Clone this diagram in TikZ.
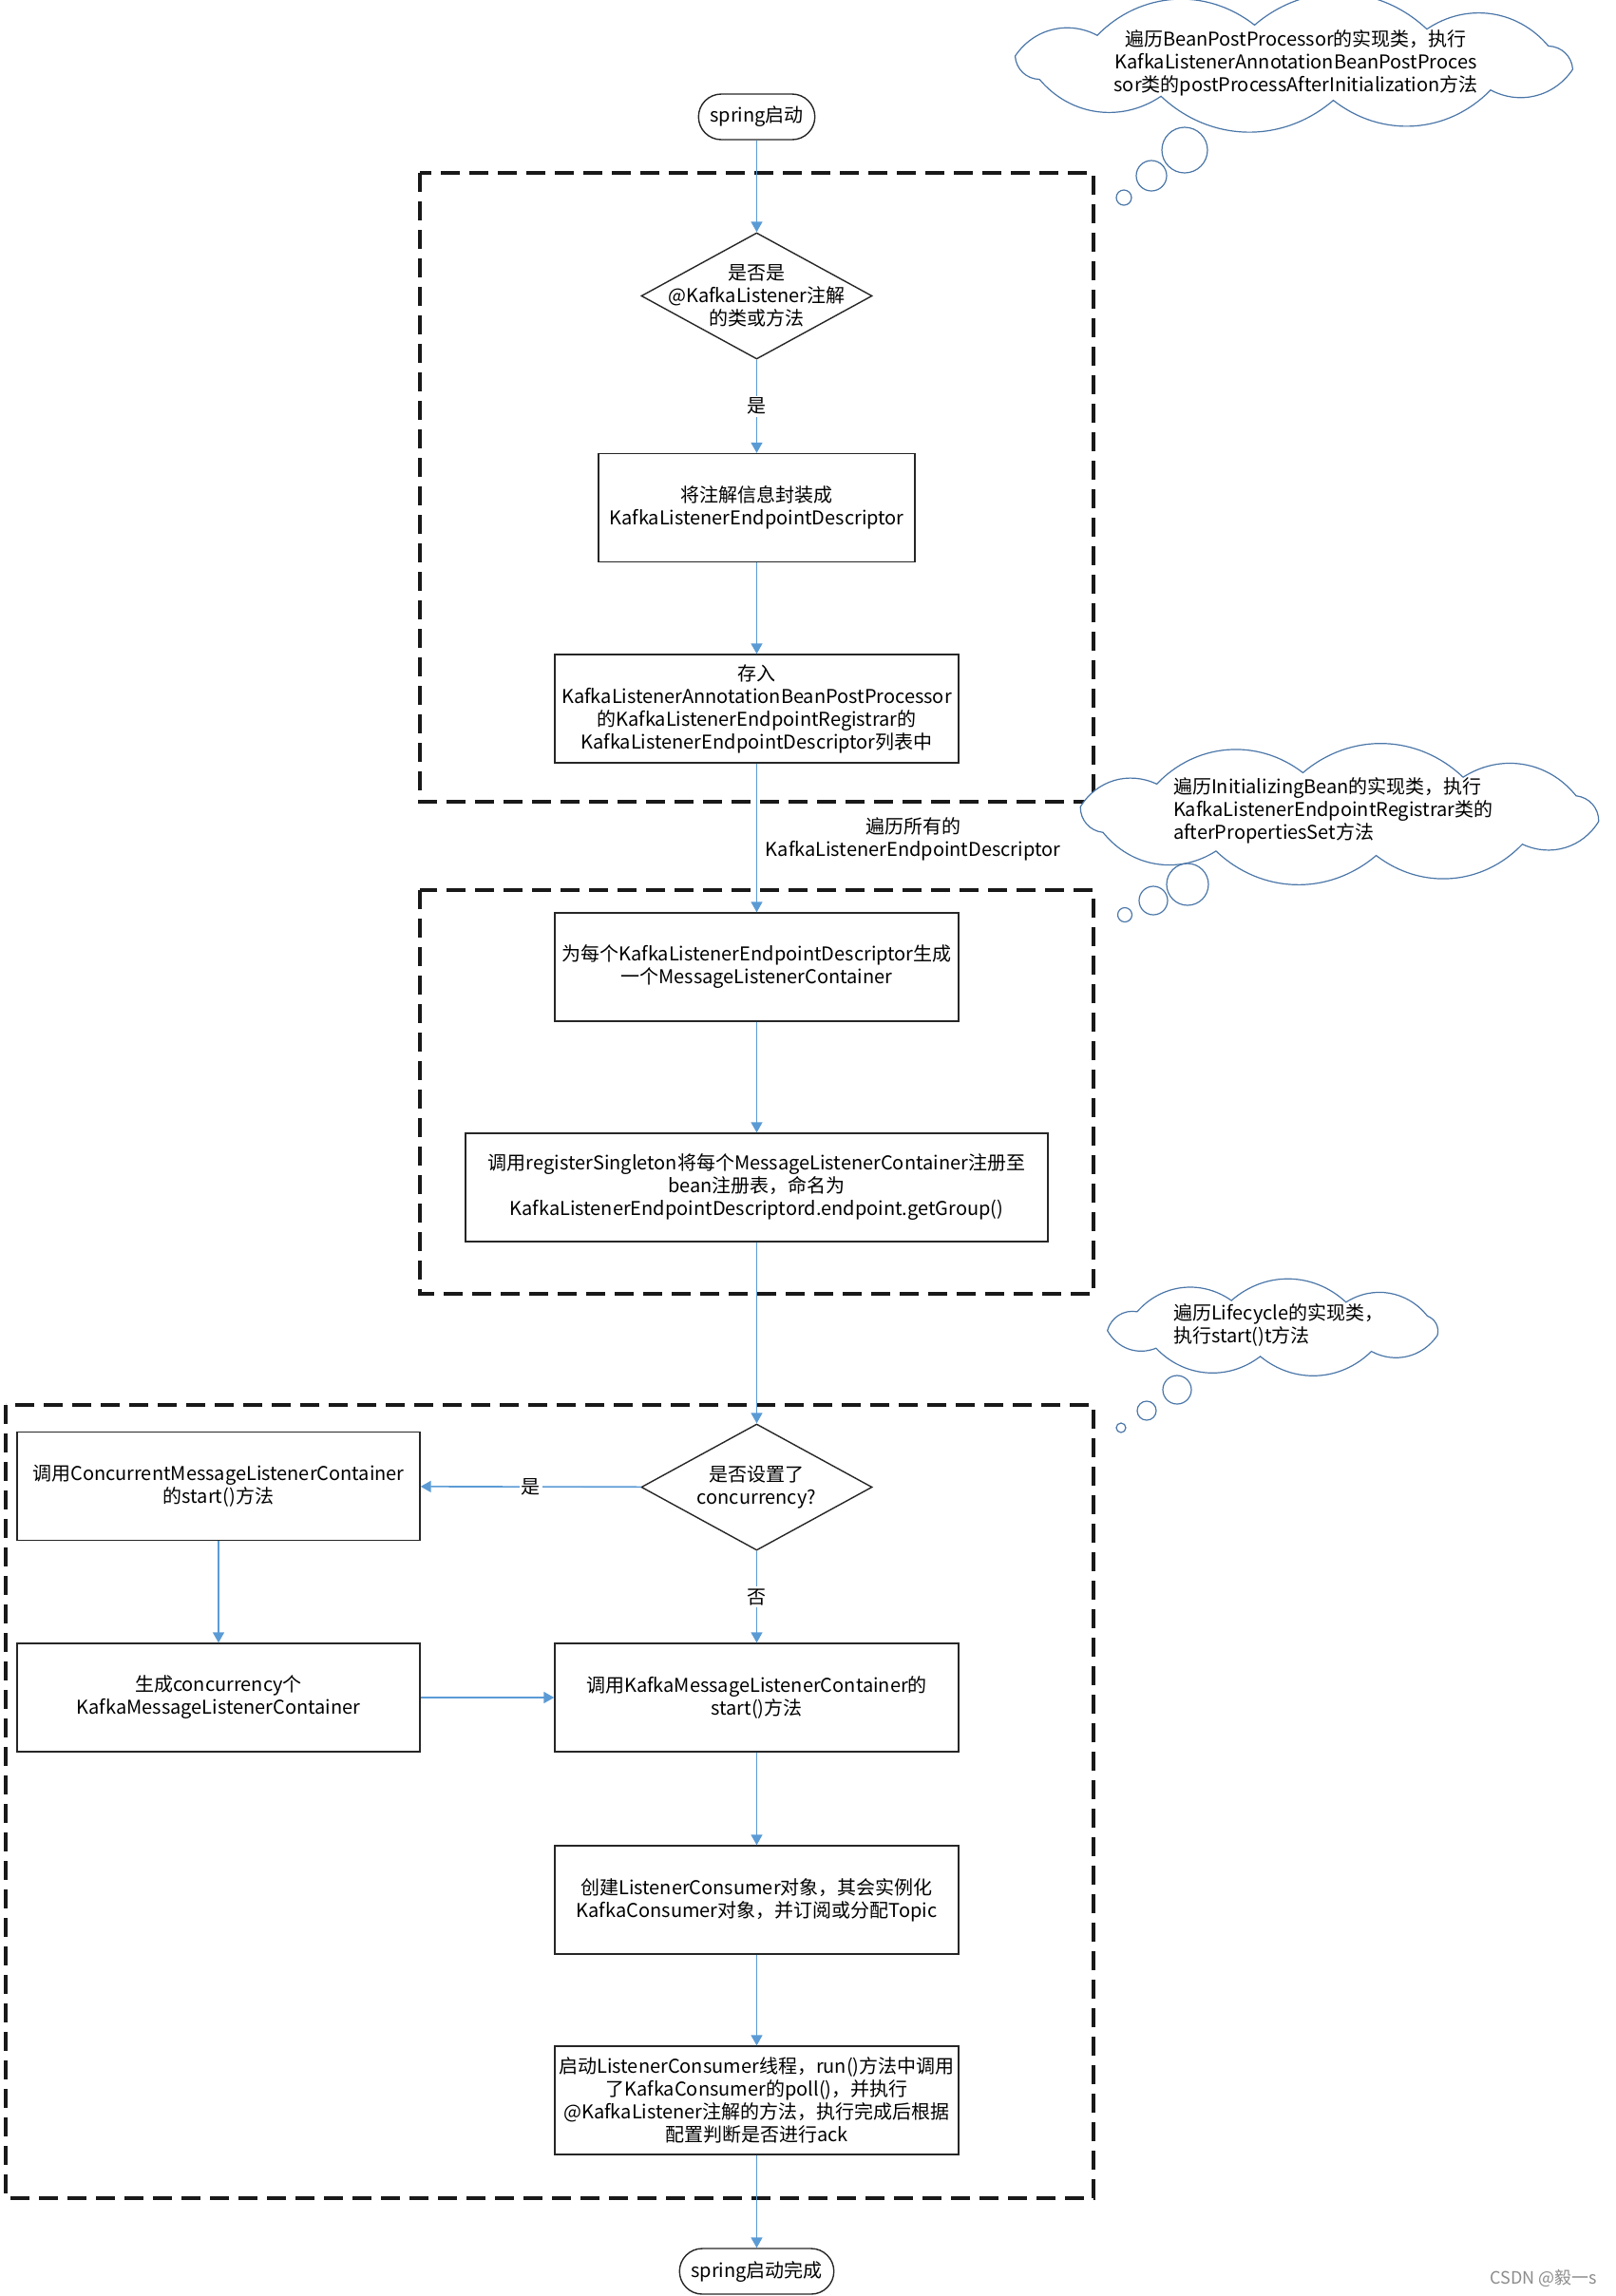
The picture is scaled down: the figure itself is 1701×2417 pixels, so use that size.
\documentclass[tikz,border=0pt]{standalone}
\usepackage{fontspec}
\setmainfont{Noto Sans CJK SC}
\usetikzlibrary{shapes.geometric,arrows.meta,calc}
\definecolor{flowblue}{RGB}{91,155,213}
\definecolor{cloudblue}{RGB}{74,118,168}

\begin{document}
\begin{tikzpicture}[x=0.5pt, y=-0.5pt,
  every node/.style={font=\fontsize{10pt}{12pt}\selectfont},
  proc/.style={draw=black!85, line width=0.7pt, rectangle, minimum height=57pt, align=center, inner sep=0pt},
  term/.style={draw=black!85, line width=0.7pt, rectangle, rounded corners=12pt, minimum height=24pt, inner xsep=6pt},
  decide/.style={draw=black!85, line width=0.7pt, diamond, minimum width=121.5pt, minimum height=66.5pt, inner sep=0pt},
  flow/.style={draw=flowblue, line width=0.8pt, -{Triangle[length=5.5pt,width=6pt]}},
  group/.style={draw=black!90, line width=1.6pt, dash pattern=on 10pt off 5pt},
  cloudline/.style={draw=cloudblue, fill=white, line width=0.6pt},
  bubble/.style={circle, draw=cloudblue, line width=0.6pt, inner sep=0pt},
  yesno/.style={fill=white, inner sep=1pt}]
\useasboundingbox (0,0) rectangle (1701,2417);

% dashed groups
\draw[group] (442,182) rectangle (1151,844);
\draw[group] (442,937) rectangle (1151,1362);
\draw[group] (6,1479) rectangle (1151,2314);

% flow nodes
\node[term] (start) at (796.5,123) {spring启动};
\node[decide] (d1) at (796.5,311.5) {};
\node[align=center] (d1t) at (d1) {是否是\\@KafkaListener注解\\的类或方法};
\node[proc, minimum width=166.5pt] (wrap) at (796.5,534.5) {将注解信息封装成\\KafkaListenerEndpointDescriptor};
\node[proc, minimum width=212.5pt] (store) at (796.5,746) {存入\\KafkaListenerAnnotationBeanPostProcessor\\的KafkaListenerEndpointRegistrar的\\KafkaListenerEndpointDescriptor列表中};
\node[align=center] (each) at (961,883) {遍历所有的\\KafkaListenerEndpointDescriptor};
\node[proc, minimum width=212.5pt] (gen) at (796.5,1018) {为每个KafkaListenerEndpointDescriptor生成\\一个MessageListenerContainer};
\node[proc, minimum width=306.5pt] (reg) at (796.5,1250) {调用registerSingleton将每个MessageListenerContainer注册至\\bean注册表，命名为\\KafkaListenerEndpointDescriptord.endpoint.getGroup()};
\node[decide] (d2) at (796.5,1565.5) {};
\node[align=center] (d2t) at (d2) {是否设置了\\concurrency?};
\node[proc, minimum width=212pt] (conc) at (230,1564.5) {调用ConcurrentMessageListenerContainer\\的start()方法};
\node[proc, minimum width=212pt] (many) at (230,1787) {生成concurrency个\\KafkaMessageListenerContainer};
\node[proc, minimum width=212.5pt] (kmlc) at (796.5,1787) {调用KafkaMessageListenerContainer的\\start()方法};
\node[proc, minimum width=212.5pt] (cons) at (796.5,2000) {创建ListenerConsumer对象，其会实例化\\KafkaConsumer对象，并订阅或分配Topic};
\node[proc, minimum width=212.5pt] (run) at (796.5,2211) {启动ListenerConsumer线程，run()方法中调用\\了KafkaConsumer的poll()，并执行\\@KafkaListener注解的方法，执行完成后根据\\配置判断是否进行ack};
\node[term, minimum width=76.5pt] (done) at (796.5,2391) {spring启动完成};

% connectors
\draw[flow] (start) -- (d1);
\draw[flow] (d1) -- node[yesno] (yes1) {是} (wrap);
\draw[flow] (wrap) -- (store);
\draw[flow] (store) -- (gen);
\draw[flow] (gen) -- (reg);
\draw[flow] (reg) -- (d2);
\draw[flow] (d2) -- node[yesno] (yes2) {是} (conc);
\draw[flow] (d2) -- node[yesno] (no2) {否} (kmlc);
\draw[flow] (conc) -- (many);
\draw[flow] (many) -- (kmlc);
\draw[flow] (kmlc) -- (cons);
\draw[flow] (cons) -- (run);
\draw[flow] (run) -- (done);

% thought clouds
\coordinate (note1) at (1362,66);
\draw[cloudline] ($(note1)+(10:298 and 40)$) \foreach \a in {46,82,...,370} {to[bend left=42] ($(note1)+(\a:298 and 40)$)} -- cycle;
\node[align=center] (note1t) at (1364,66.5) {遍历BeanPostProcessor的实现类，执行\\KafkaListenerAnnotationBeanPostProces\\sor类的postProcessAfterInitialization方法};
\node[bubble, minimum size=24pt] (note1a) at (1247,158) {};
\node[bubble, minimum size=16pt] (note1b) at (1212,185) {};
\node[bubble, minimum size=8pt] (note1c) at (1183,208) {};

\coordinate (note2) at (1410,857);
\draw[cloudline] ($(note2)+(10:277 and 44)$) \foreach \a in {46,82,...,370} {to[bend left=42] ($(note2)+(\a:277 and 44)$)} -- cycle;
\node[align=left, anchor=west] (note2t) at (1228,853) {遍历InitializingBean的实现类，执行\\KafkaListenerEndpointRegistrar类的\\afterPropertiesSet方法};
\node[bubble, minimum size=22pt] (note2a) at (1250,931) {};
\node[bubble, minimum size=15pt] (note2b) at (1214,948) {};
\node[bubble, minimum size=7.5pt] (note2c) at (1184,963) {};

\coordinate (note3) at (1342,1398);
\draw[cloudline] ($(note3)+(15:177 and 30)$) \foreach \a in {55,95,...,375} {to[bend left=42] ($(note3)+(\a:177 and 30)$)} -- cycle;
\node[align=left, anchor=west] (note3t) at (1228,1395) {遍历Lifecycle的实现类，\\执行start()t方法};
\node[bubble, minimum size=15pt] (note3a) at (1239,1463) {};
\node[bubble, minimum size=10pt] (note3b) at (1207,1485) {};
\node[bubble, minimum size=5pt] (note3c) at (1180,1503) {};

\node[text=black!45, font=\fontsize{9pt}{10pt}\selectfont] (mark) at (1625,2398) {CSDN @毅一s};
\end{tikzpicture}
\end{document}
